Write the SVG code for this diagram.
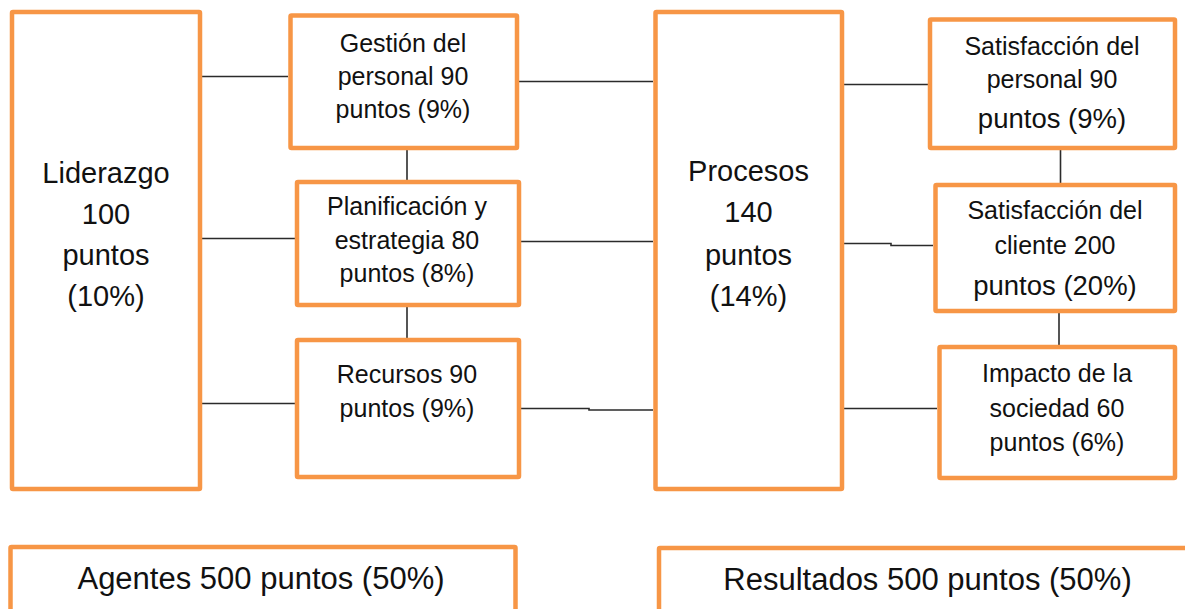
<svg xmlns="http://www.w3.org/2000/svg" width="1185" height="609" viewBox="0 0 1185 609">
<style>
.box{fill:#ffffff;stroke:#F79646;stroke-width:4.5}
.ln{fill:none;stroke:#2b2b2b;stroke-width:1.6}
text{font-family:"Liberation Sans",Arial,sans-serif;fill:#111111;text-anchor:middle}
.big{font-size:29px}
.mid{font-size:25px}
.mid2{font-size:27.5px}
.bot{font-size:31px}
</style>
<rect width="1185" height="609" fill="#ffffff"/>
<g id="connectors">
<line class="ln" x1="202" y1="76.5" x2="288" y2="76.5"/>
<line class="ln" x1="202" y1="238.5" x2="295" y2="238.5"/>
<line class="ln" x1="202" y1="403.5" x2="295" y2="403.5"/>
<line class="ln" x1="519" y1="81.5" x2="653" y2="81.5"/>
<line class="ln" x1="521" y1="241.5" x2="653" y2="241.5"/>
<polyline class="ln" points="521,408.5 589,408.5 589,410 653,410"/>
<line class="ln" x1="844" y1="84.5" x2="928" y2="84.5"/>
<polyline class="ln" points="844,243.5 891,243.5 891,245.5 933,245.5"/>
<line class="ln" x1="844" y1="408.5" x2="937" y2="408.5"/>
<line class="ln" x1="407" y1="150" x2="407" y2="180"/>
<line class="ln" x1="407" y1="307" x2="407" y2="338"/>
<line class="ln" x1="1060.5" y1="150" x2="1060.5" y2="183"/>
<line class="ln" x1="1059" y1="313" x2="1059" y2="345"/>
</g>
<g id="liderazgo">
<rect class="box" x="12" y="12" width="188" height="477" rx="1"/>
<text class="big" x="106" y="183">Liderazgo</text>
<text class="big" x="106" y="224">100</text>
<text class="big" x="106" y="265">puntos</text>
<text class="big" x="106" y="306">(10%)</text>
</g>
<g id="gestion">
<rect class="box" x="290.5" y="15.5" width="226.5" height="132.5" rx="1"/>
<text class="mid" x="403" y="52">Gestión del</text>
<text class="mid" x="403" y="85">personal 90</text>
<text class="mid" x="403" y="118">puntos (9%)</text>
</g>
<g id="planificacion">
<rect class="box" x="297" y="182" width="222" height="123" rx="1"/>
<text class="mid" x="407" y="215">Planificación y</text>
<text class="mid" x="407" y="249">estrategia 80</text>
<text class="mid" x="407" y="282">puntos (8%)</text>
</g>
<g id="recursos">
<rect class="box" x="297" y="340" width="222" height="137" rx="1"/>
<text class="mid" x="407" y="383">Recursos 90</text>
<text class="mid" x="407" y="417">puntos (9%)</text>
</g>
<g id="procesos">
<rect class="box" x="655.5" y="12" width="186.5" height="477" rx="1"/>
<text class="big" x="748.5" y="181">Procesos</text>
<text class="big" x="748.5" y="222">140</text>
<text class="big" x="748.5" y="265">puntos</text>
<text class="big" x="748.5" y="306">(14%)</text>
</g>
<g id="sat-personal">
<rect class="box" x="930" y="19.5" width="245" height="128.5" rx="1"/>
<text class="mid" x="1052" y="55">Satisfacción del</text>
<text class="mid" x="1052" y="88">personal 90</text>
<text class="mid2" x="1052" y="128">puntos (9%)</text>
</g>
<g id="sat-cliente">
<rect class="box" x="935.5" y="185" width="239.5" height="126" rx="1"/>
<text class="mid" x="1055" y="218.5">Satisfacción del</text>
<text class="mid" x="1055" y="253.5">cliente 200</text>
<text class="mid2" x="1055" y="295">puntos (20%)</text>
</g>
<g id="impacto">
<rect class="box" x="939.5" y="347" width="235.5" height="131" rx="1"/>
<text class="mid" x="1057" y="382">Impacto de la</text>
<text class="mid" x="1057" y="417">sociedad 60</text>
<text class="mid" x="1057" y="451">puntos (6%)</text>
</g>
<g id="agentes">
<rect class="box" x="10.5" y="547" width="505" height="100" rx="1"/>
<text class="bot" x="261" y="589">Agentes 500 puntos (50%)</text>
</g>
<g id="resultados">
<rect class="box" x="659" y="548" width="560" height="100" rx="1"/>
<text class="bot" x="927.5" y="590">Resultados 500 puntos (50%)</text>
</g>
</svg>
